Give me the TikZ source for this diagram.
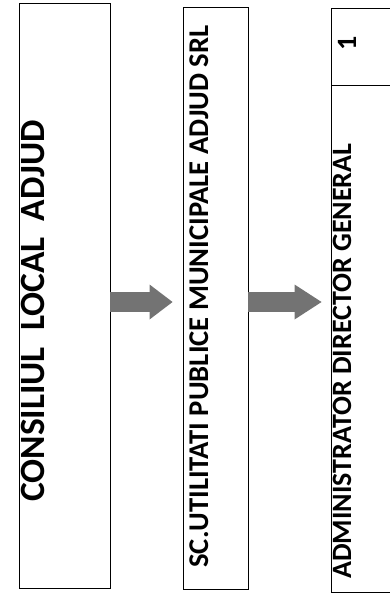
\documentclass[tikz,border=0pt]{standalone}
\usepackage{fontspec}
\setmainfont{Carlito}
\usetikzlibrary{arrows.meta}
\usetikzlibrary{calc}
\usetikzlibrary{positioning}

\begin{document}
\begin{tikzpicture}[x=1pt, y=-1pt,
    line width=0.9pt,
    inner sep=0pt,
    text height=0.64em,
    text depth=0pt]
    \path [use as bounding box] (0,0) rectangle (390,594);

    \tikzset{blockarrow/.style={draw=black!55,
        line width=20pt,
        -{Triangle[length=#1, width=35pt, line width=0pt]}},
      boxlabel/.style={rotate=90,
        font=\fontsize{#1}{#1}\selectfont\bfseries}}

    \node[name=consiliu,
      shape=rectangle,
      draw,
      minimum width=91pt,
      minimum height=585pt] at (64.5,295.5) {};

    \node[name=sc,
      shape=rectangle,
      draw,
      minimum width=65pt,
      minimum height=582pt] at (215.5,298) {};

    \node[name=nrcell,
      shape=rectangle,
      draw,
      minimum width=65pt,
      minimum height=77pt] at (363.5,46.5) {};

    \node[name=admin,
      shape=rectangle,
      draw,
      minimum width=65pt,
      minimum height=507pt,
      below=0pt of nrcell] {};

    \node[name=consiliutxt,
      boxlabel=35.5pt,
      anchor=east] at (41,120) {CONSILIUL\ \ LOCAL\ \ ADJUD};

    \node[name=sctxt,
      boxlabel=28.6pt,
      anchor=east] at (205,25) {SC.UTILITATI PUBLICE MUNICIPALE ADJUD SRL};

    \node[name=admintxt,
      boxlabel=28pt,
      anchor=east] at (348,143) {ADMINISTRATOR DIRECTOR GENERAL};

    \node[name=nrtxt,
      boxlabel=28pt] at (353,43) {1};

    \coordinate (a1s) at ([yshift=-6.5pt]consiliu.east);
    \coordinate (a2s) at ([yshift=-4pt]sc.east);

    \draw[blockarrow=23pt] (a1s) -- ($ (a1s -| sc.west) + (-10,0) $);
    \draw[blockarrow=27pt] (a2s) -- ($ (a2s -| admin.west) + (-9,0) $);
  \end{tikzpicture}
\end{document}
